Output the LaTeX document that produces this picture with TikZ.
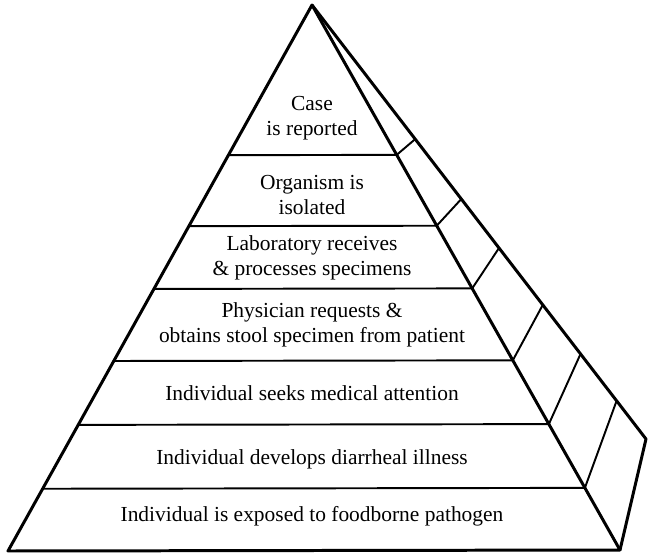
\documentclass[tikz,border=0pt]{standalone}
\usepackage{fontspec}
\setmainfont{Liberation Serif}
\usetikzlibrary{calc}

\begin{document}
\begin{tikzpicture}[x=0.02cm,y=-0.02cm,
  edge/.style={line width=1.7pt,line join=round},
  tier/.style={line width=1.1pt},
  tiertext/.style={align=center,font=\fontsize{12.2}{14.4}\selectfont}]
  \useasboundingbox (0,0) rectangle (650,555);
  \coordinate (top) at (312,5);
  \coordinate (bl) at (8,551);
  \coordinate (br) at (620,550);
  \coordinate (back) at (646,439);

  % tier lines on the front, dividers on the side
  \foreach \f/\b [count=\i] in {0.275/0.309,0.405/0.447,0.520/0.560,0.652/0.691,0.769/0.804,0.886/0.912}{
    \coordinate (l\i) at ($(top)!\f!(bl)$);
    \coordinate (r\i) at ($(top)!\f!(br)$);
    \coordinate (s\i) at ($(top)!\b!(back)$);
    \draw[tier] (l\i) -- (r\i) -- (s\i);
  }
  \draw[edge] (top) -- (bl) -- (br) -- cycle;
  \draw[edge] (top) -- (back) -- (br);

  \node[tiertext] (reported) at (312,118) {Case\\is reported};
  \node[tiertext] (isolated) at (312,195) {Organism is\\isolated};
  \node[tiertext] (lab) at (312,258) {Laboratory receives\\\& processes specimens};
  \node[tiertext] (physician) at (312,325) {Physician requests \&\\obtains stool specimen from patient};
  \node[tiertext] (seeks) at (312,393) {Individual seeks medical attention};
  \node[tiertext] (develops) at (312,459) {Individual develops diarrheal illness};
  \node[tiertext] (exposed) at (312,516) {Individual is exposed to foodborne pathogen};
\end{tikzpicture}
\end{document}
